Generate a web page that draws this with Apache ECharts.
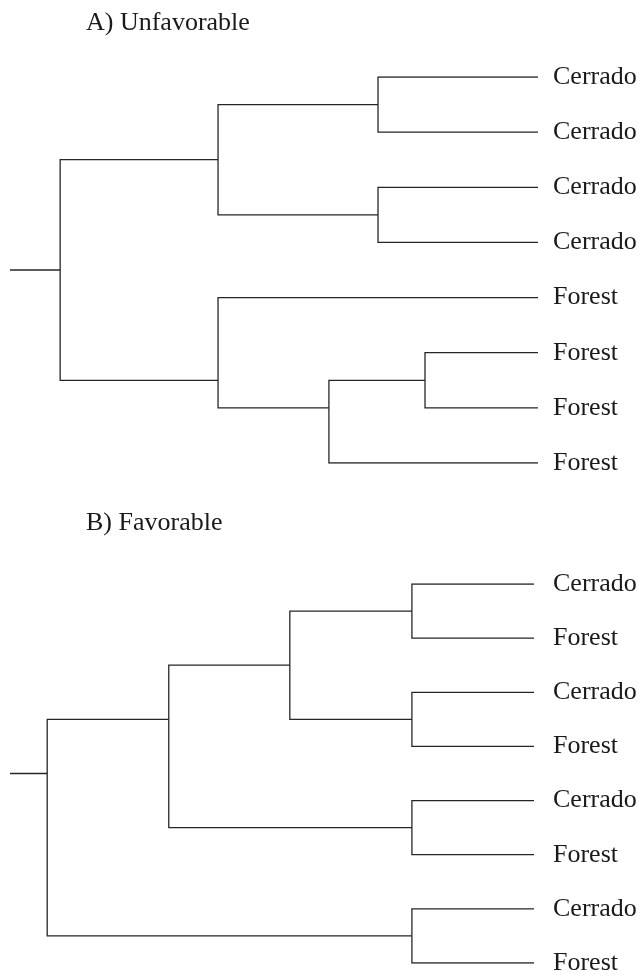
<!DOCTYPE html>
<html>
<head>
<meta charset="utf-8">
<title>Dendrograms</title>
<script src="https://cdn.jsdelivr.net/npm/echarts@6/dist/echarts.min.js"></script>
<style>
  html, body { margin: 0; padding: 0; background: #fff; }
  #chart { width: 641px; height: 976px; }
</style>
</head>
<body>
<div id="chart"></div>
<script>
// panel titles
var titles = ['A) Unfavorable', 'B) Favorable'];

// leaf labels, top to bottom
var leavesA = ['Cerrado', 'Cerrado', 'Cerrado', 'Cerrado', 'Forest', 'Forest', 'Forest', 'Forest'];
var leavesB = ['Cerrado', 'Forest', 'Cerrado', 'Forest', 'Cerrado', 'Forest', 'Cerrado', 'Forest'];

// merges like hclust: [left, right, height]
// negative = leaf number (1-based), positive = earlier merge (1-based)
var mergesA = [
    [-1, -2, 30.3],
    [-3, -4, 30.3],
    [1, 2, 60.6],
    [-6, -7, 21.4],
    [4, -8, 39.6],
    [-5, 5, 60.6],
    [3, 6, 90.5]
];
var mergesB = [
    [-1, -2, 23.3],
    [-3, -4, 23.3],
    [1, 2, 46.6],
    [-5, -6, 23.3],
    [3, 4, 69.7],
    [-7, -8, 23.3],
    [5, 6, 92.9]
];

// root stub is drawn up to this height
var stubHeight = 100;

var lineColor = '#262626';
var textColor = '#1a1a1a';
var font = 'Liberation Serif';

// turn the merge table into elbow polylines (node y = mean of its leaves)
function buildBranches(merges) {
    var nodes = [];
    function info(ref) {
        if (ref < 0) return { h: 0, leaves: [-ref - 1] };
        return nodes[ref - 1];
    }
    function meanY(leaves) {
        var s = 0;
        leaves.forEach(function (i) { s += i; });
        return s / leaves.length;
    }
    var polylines = [];
    merges.forEach(function (m) {
        var a = info(m[0]), b = info(m[1]);
        var ya = meanY(a.leaves), yb = meanY(b.leaves);
        polylines.push({ coords: [[a.h, ya], [m[2], ya], [m[2], yb], [b.h, yb]] });
        nodes.push({ h: m[2], leaves: a.leaves.concat(b.leaves) });
    });
    var root = nodes[nodes.length - 1];
    var yr = meanY(root.leaves);
    polylines.push({ coords: [[root.h, yr], [stubHeight, yr]] });
    return polylines;
}

function leafPoints(leaves) {
    return leaves.map(function (name, i) {
        return { value: [0, i], name: name };
    });
}

var chart = echarts.init(document.getElementById('chart'));

var grids = [
    { left: 10, right: 103, top: 77, height: 386 },
    { left: 10, right: 107, top: 584, height: 379 }
];
var labelGap = [15, 19];

var option = {
    animation: false,
    backgroundColor: '#fff',
    title: [
        { text: titles[0], left: 86, top: 10, padding: 0,
          textStyle: { fontFamily: font, fontSize: 26, fontWeight: 'normal', color: textColor } },
        { text: titles[1], left: 86, top: 510, padding: 0,
          textStyle: { fontFamily: font, fontSize: 26, fontWeight: 'normal', color: textColor } }
    ],
    grid: grids,
    xAxis: [0, 1].map(function (i) {
        return { type: 'value', gridIndex: i, min: 0, max: stubHeight, inverse: true, show: false };
    }),
    yAxis: [0, 1].map(function (i) {
        return { type: 'value', gridIndex: i, min: 0, max: 7, inverse: true, show: false };
    }),
    series: []
};

[[leavesA, mergesA], [leavesB, mergesB]].forEach(function (p, i) {
    option.series.push({
        type: 'lines',
        coordinateSystem: 'cartesian2d',
        xAxisIndex: i,
        yAxisIndex: i,
        polyline: true,
        silent: true,
        lineStyle: { color: lineColor, width: 1.3, opacity: 1, curveness: 0 },
        data: buildBranches(p[1])
    });
    option.series.push({
        type: 'scatter',
        xAxisIndex: i,
        yAxisIndex: i,
        symbolSize: 0,
        silent: true,
        itemStyle: { opacity: 1 },
        label: {
            show: true,
            position: 'right',
            distance: labelGap[i],
            formatter: '{b}',
            fontFamily: font,
            fontSize: 26,
            color: textColor
        },
        data: leafPoints(p[0])
    });
});

chart.setOption(option);
window.addEventListener('resize', chart.resize);
</script>
</body>
</html>
